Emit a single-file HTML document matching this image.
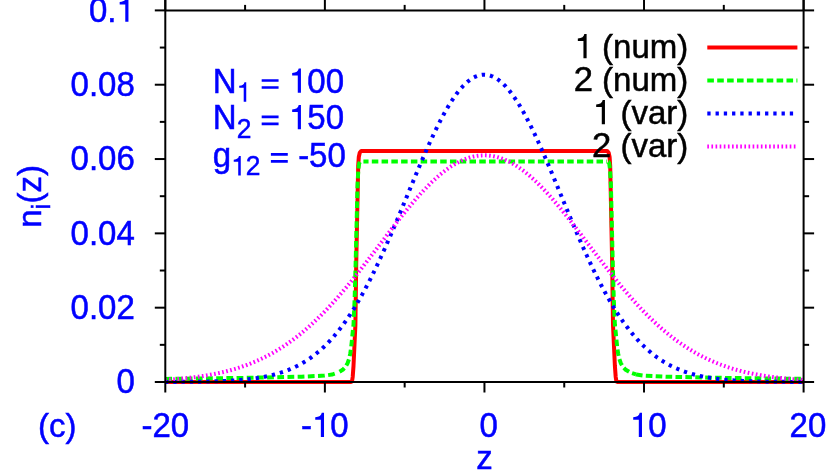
<!DOCTYPE html>
<html><head><meta charset="utf-8"><title>plot</title>
<style>
html,body{margin:0;padding:0;background:#fff;}
body{width:830px;height:475px;overflow:hidden;}
svg{display:block;will-change:transform;}
text{font-family:"Liberation Sans",sans-serif;font-size:33px;fill:#0000ff;stroke:#0000ff;stroke-width:0.5px;}
.h{fill:none !important;stroke:none !important;}
</style></head><body>
<svg width="830" height="475" viewBox="0 0 830 475">
<rect width="830" height="475" fill="#fff"/>
<defs><clipPath id="c"><rect x="165.3" y="10.4" width="638.3" height="374.6"/></clipPath></defs>
<g font-size="33">
<text transform="translate(134.80,393.30) scale(1,1.05)" text-anchor="end">0</text>
<text transform="translate(134.80,318.98) scale(1,1.05)" text-anchor="end">0.02</text>
<text transform="translate(134.80,244.66) scale(1,1.05)" text-anchor="end">0.04</text>
<text transform="translate(134.80,170.34) scale(1,1.05)" text-anchor="end">0.06</text>
<text transform="translate(134.80,96.02) scale(1,1.05)" text-anchor="end">0.08</text>
<text transform="translate(134.80,21.70) scale(1,1.05)" text-anchor="end">0.<tspan class="h">1</tspan></text>
<text transform="translate(165.30,436.90) scale(1,1.05)" text-anchor="middle">-20</text>
<text transform="translate(324.88,436.90) scale(1,1.05)" text-anchor="middle">-<tspan class="h">1</tspan>0</text>
<text transform="translate(488.75,436.90) scale(1,1.05)" text-anchor="middle">0</text>
<text transform="translate(648.33,436.90) scale(1,1.05)" text-anchor="middle"><tspan class="h">1</tspan>0</text>
<text transform="translate(807.90,436.90) scale(1,1.05)" text-anchor="middle">20</text>
<text transform="translate(38.00,436.90) scale(1,1.0)" text-anchor="start">(c)</text>
<text transform="translate(484.45,469.00) scale(1,1.0)" text-anchor="middle">z</text>
<text transform="translate(41.30,227.80) rotate(-90) scale(1,1.0)" text-anchor="start">n<tspan font-size="26.4" dy="8.5">i</tspan><tspan dy="-8.5">(z)</tspan></text>
<text transform="translate(212.80,92.80) scale(1,1.04)" text-anchor="start">N<tspan font-size="26.4" dy="8.5"><tspan class="h">1</tspan></tspan><tspan dy="-8.5"> <tspan class="h">=</tspan> <tspan class="h">1</tspan>00</tspan></text>
<text transform="translate(212.80,129.20) scale(1,1.04)" text-anchor="start">N<tspan font-size="26.4" dy="8.5">2</tspan><tspan dy="-8.5"> <tspan class="h">=</tspan> <tspan class="h">1</tspan>50</tspan></text>
<text transform="translate(212.80,166.60) scale(1,1.04)" text-anchor="start">g<tspan font-size="26.4" dy="8.5"><tspan class="h">1</tspan>2</tspan><tspan dy="-8.5"> <tspan class="h">=</tspan> -50</tspan></text>
</g>
<g id="ov"><path transform="translate(116.44,21.70) scale(33.00,-34.65)" d="M0.268,0 L0.364,0 L0.364,0.700 L0.296,0.700 C0.282,0.618 0.222,0.578 0.098,0.570 L0.098,0.498 L0.268,0.498 Z" fill="#0000ff"/>
<path transform="translate(312.01,436.90) scale(33.00,-34.65)" d="M0.268,0 L0.364,0 L0.364,0.700 L0.296,0.700 C0.282,0.618 0.222,0.578 0.098,0.570 L0.098,0.498 L0.268,0.498 Z" fill="#0000ff"/>
<path transform="translate(629.97,436.90) scale(33.00,-34.65)" d="M0.268,0 L0.364,0 L0.364,0.700 L0.296,0.700 C0.282,0.618 0.222,0.578 0.098,0.570 L0.098,0.498 L0.268,0.498 Z" fill="#0000ff"/>
<path transform="translate(236.63,101.64) scale(26.40,-27.72)" d="M0.268,0 L0.364,0 L0.364,0.700 L0.296,0.700 C0.282,0.618 0.222,0.578 0.098,0.570 L0.098,0.498 L0.268,0.498 Z" fill="#0000ff"/>
<path transform="translate(260.49,92.80) scale(33.00,-34.65)" d="M0.036,0.114 H0.548 V0.190 H0.036 Z M0.036,0.316 H0.548 V0.392 H0.036 Z" fill="#0000ff"/>
<path transform="translate(288.93,92.80) scale(33.00,-34.65)" d="M0.268,0 L0.364,0 L0.364,0.700 L0.296,0.700 C0.282,0.618 0.222,0.578 0.098,0.570 L0.098,0.498 L0.268,0.498 Z" fill="#0000ff"/>
<path transform="translate(260.49,129.20) scale(33.00,-34.65)" d="M0.036,0.114 H0.548 V0.190 H0.036 Z M0.036,0.316 H0.548 V0.392 H0.036 Z" fill="#0000ff"/>
<path transform="translate(288.93,129.20) scale(33.00,-34.65)" d="M0.268,0 L0.364,0 L0.364,0.700 L0.296,0.700 C0.282,0.618 0.222,0.578 0.098,0.570 L0.098,0.498 L0.268,0.498 Z" fill="#0000ff"/>
<path transform="translate(231.15,175.44) scale(26.40,-27.72)" d="M0.268,0 L0.364,0 L0.364,0.700 L0.296,0.700 C0.282,0.618 0.222,0.578 0.098,0.570 L0.098,0.498 L0.268,0.498 Z" fill="#0000ff"/>
<path transform="translate(269.70,166.60) scale(33.00,-34.65)" d="M0.036,0.114 H0.548 V0.190 H0.036 Z M0.036,0.316 H0.548 V0.392 H0.036 Z" fill="#0000ff"/></g>
<g fill="none" stroke-width="4" stroke-linejoin="round" clip-path="url(#c)">
<path d="M165.30,382.00 L350.80,382.00 L352.00,381.40 L352.70,377.00 L353.50,366.00 L355.40,325.00 L356.20,265.00 L358.20,166.00 L358.80,157.00 L359.80,152.50 L361.30,150.90 L607.10,150.90 L608.60,152.50 L609.60,157.00 L610.20,166.00 L612.20,265.00 L613.00,325.00 L614.90,366.00 L615.70,377.00 L616.40,381.40 L617.60,382.00 L803.10,382.00" stroke="#ff0000"/>
<path d="M165.30,378.90 L243.50,377.90 L301.70,376.70 L324.50,375.60 L332.00,374.60 L336.00,373.27" stroke="#00ff00" stroke-dasharray="6.788 3.394" stroke-dashoffset="0.00"/>
<path d="M339.50,371.71 L342.70,369.80 L345.50,366.80 L347.70,362.90 L349.20,358.50 L350.30,353.40 L351.20,347.00 L351.80,341.40 L352.80,331.30 L353.50,325.00 L354.60,300.00 L355.60,265.00 L357.50,185.00 L358.30,170.00 L359.20,163.30 L360.00,161.90 L361.50,161.60" stroke="#00ff00" stroke-dasharray="6.60 3.30" stroke-dashoffset="0.47"/>
<path d="M363.40,161.60 L606.90,161.60" stroke="#00ff00" stroke-dasharray="6.513 3.257" stroke-dashoffset="1.37"/>
<path d="M606.90,161.60 L606.90,161.60 L608.40,161.90 L609.20,163.30 L610.10,170.00 L610.90,185.00 L612.80,265.00 L613.80,300.00 L614.90,325.00 L615.60,331.30 L616.60,341.40 L617.20,347.00 L618.10,353.40 L619.20,358.50 L620.70,362.90 L622.90,366.80 L625.70,369.80 L630.40,372.60 L636.00,374.47" stroke="#00ff00" stroke-dasharray="6.60 3.30" stroke-dashoffset="8.45"/>
<path d="M636.00,374.47 L636.40,374.60 L643.90,375.60 L666.70,376.70 L724.90,377.90 L803.10,378.90" stroke="#00ff00" stroke-dasharray="6.60 3.30" stroke-dashoffset="0.00"/>
<path d="M165.05,381.94 L165.85,381.94 L166.65,381.94 L167.44,381.94 L168.24,381.93 L169.04,381.93 L169.84,381.93 L170.64,381.92 L171.43,381.92 L172.23,381.92 L173.03,381.91 L173.83,381.91 L174.62,381.91 L175.42,381.90 L176.22,381.90 L177.02,381.89 L177.82,381.89 L178.61,381.88 L179.41,381.88 L180.21,381.87 L181.01,381.87 L181.81,381.86 L182.60,381.86 L183.40,381.85 L184.20,381.85 L185.00,381.84 L185.79,381.83 L186.59,381.83 L187.39,381.82 L188.19,381.81 L188.99,381.80 L189.78,381.80 L190.58,381.79 L191.38,381.78 L192.18,381.77 L192.98,381.76 L193.77,381.75 L194.57,381.74 L195.37,381.73 L196.17,381.72 L196.97,381.71 L197.76,381.70 L198.56,381.69 L199.36,381.67 L200.16,381.66 L200.95,381.65 L201.75,381.63 L202.55,381.62 L203.35,381.60 L204.15,381.59 L204.94,381.57 L205.74,381.56 L206.54,381.54 L207.34,381.52 L208.14,381.50 L208.93,381.49 L209.73,381.47 L210.53,381.45 L211.33,381.43 L212.12,381.40 L212.92,381.38 L213.72,381.36 L214.52,381.34 L215.32,381.31 L216.11,381.29 L216.91,381.26 L217.71,381.23 L218.51,381.20 L219.31,381.18 L220.10,381.15 L220.90,381.11 L221.70,381.08 L222.50,381.05 L223.29,381.02 L224.09,380.98 L224.89,380.94 L225.69,380.91 L226.49,380.87 L227.28,380.83 L228.08,380.79 L228.88,380.74 L229.68,380.70 L230.48,380.66 L231.27,380.61 L232.07,380.56 L232.87,380.51 L233.67,380.46 L234.47,380.41 L235.26,380.35 L236.06,380.30 L236.86,380.24 L237.66,380.18 L238.45,380.12 L239.25,380.06 L240.05,379.99 L240.85,379.92 L241.65,379.85 L242.44,379.78 L243.24,379.71 L244.04,379.63 L244.84,379.56 L245.64,379.48 L246.43,379.39 L247.23,379.31 L248.03,379.22 L248.83,379.13 L249.62,379.04 L250.42,378.95 L251.22,378.85 L252.02,378.75 L252.82,378.65 L253.61,378.54 L254.41,378.43 L255.21,378.32 L256.01,378.20 L256.81,378.09 L257.60,377.96 L258.40,377.84 L259.20,377.71 L260.00,377.58 L260.80,377.44 L261.59,377.30 L262.39,377.16 L263.19,377.02 L263.99,376.87 L264.78,376.71 L265.58,376.55 L266.38,376.39 L267.18,376.22 L267.98,376.05 L268.77,375.88 L269.57,375.70 L270.37,375.51 L271.17,375.32 L271.97,375.13 L272.76,374.93 L273.56,374.73 L274.36,374.52 L275.16,374.30 L275.95,374.09 L276.75,373.86 L277.55,373.63 L278.35,373.40 L279.15,373.15 L279.94,372.91 L280.74,372.65 L281.54,372.39 L282.34,372.13 L283.14,371.86 L283.93,371.58 L284.73,371.30 L285.53,371.00 L286.33,370.71 L287.12,370.40 L287.92,370.09 L288.72,369.77 L289.52,369.45 L290.32,369.12 L291.11,368.78 L291.91,368.43 L292.71,368.07 L293.51,367.71 L294.31,367.34 L295.10,366.96 L295.90,366.57 L296.70,366.18 L297.50,365.77 L298.30,365.36 L299.09,364.94 L299.89,364.51 L300.69,364.07 L301.49,363.63 L302.28,363.17 L303.08,362.70 L303.88,362.23 L304.68,361.74 L305.48,361.25 L306.27,360.74 L307.07,360.23 L307.87,359.71 L308.67,359.17 L309.47,358.63 L310.26,358.07 L311.06,357.51 L311.86,356.93 L312.66,356.34 L313.45,355.74 L314.25,355.13 L315.05,354.51 L315.85,353.88 L316.65,353.24 L317.44,352.58 L318.24,351.92 L319.04,351.24 L319.84,350.55 L320.64,349.85 L321.43,349.13 L322.23,348.41 L323.03,347.67 L323.83,346.92 L324.63,346.15 L325.42,345.38 L326.22,344.59 L327.02,343.79 L327.82,342.97 L328.61,342.14 L329.41,341.30 L330.21,340.45 L331.01,339.58 L331.81,338.70 L332.60,337.80 L333.40,336.89 L334.20,335.97 L335.00,335.03 L335.80,334.08 L336.59,333.12 L337.39,332.14 L338.19,331.14 L338.99,330.14 L339.78,329.12 L340.58,328.08 L341.38,327.03 L342.18,325.97 L342.98,324.89 L343.77,323.80 L344.57,322.69 L345.37,321.56 L346.17,320.43 L346.97,319.28 L347.76,318.11 L348.56,316.93 L349.36,315.73 L350.16,314.52 L350.95,313.30 L351.75,312.06 L352.55,310.80 L353.35,309.53 L354.15,308.25 L354.94,306.95 L355.74,305.64 L356.54,304.31 L357.34,302.97 L358.14,301.61 L358.93,300.24 L359.73,298.85 L360.53,297.45 L361.33,296.03 L362.13,294.61 L362.92,293.16 L363.72,291.70 L364.52,290.23 L365.32,288.75 L366.11,287.25 L366.91,285.73 L367.71,284.21 L368.51,282.67 L369.31,281.11 L370.10,279.54 L370.90,277.96 L371.70,276.37 L372.50,274.76 L373.30,273.14 L374.09,271.51 L374.89,269.87 L375.69,268.21 L376.49,266.54 L377.28,264.86 L378.08,263.17 L378.88,261.47 L379.68,259.75 L380.48,258.03 L381.27,256.29 L382.07,254.54 L382.87,252.78 L383.67,251.02 L384.47,249.24 L385.26,247.45 L386.06,245.65 L386.86,243.85 L387.66,242.03 L388.46,240.21 L389.25,238.38 L390.05,236.54 L390.85,234.69 L391.65,232.83 L392.44,230.97 L393.24,229.10 L394.04,227.23 L394.84,225.34 L395.64,223.46 L396.43,221.56 L397.23,219.66 L398.03,217.76 L398.83,215.85 L399.63,213.94 L400.42,212.02 L401.22,210.11 L402.02,208.18 L402.82,206.26 L403.61,204.33 L404.41,202.40 L405.21,200.47 L406.01,198.54 L406.81,196.61 L407.60,194.68 L408.40,192.75 L409.20,190.82 L410.00,188.89 L410.80,186.96 L411.59,185.03 L412.39,183.11 L413.19,181.18 L413.99,179.27 L414.78,177.35 L415.58,175.44 L416.38,173.53 L417.18,171.63 L417.98,169.74 L418.77,167.85 L419.57,165.97 L420.37,164.09 L421.17,162.22 L421.97,160.36 L422.76,158.51 L423.56,156.66 L424.36,154.83 L425.16,153.00 L425.96,151.18 L426.75,149.38 L427.55,147.59 L428.35,145.80 L429.15,144.03 L429.94,142.28 L430.74,140.53 L431.54,138.80 L432.34,137.08 L433.14,135.38 L433.93,133.69 L434.73,132.02 L435.53,130.36 L436.33,128.72 L437.13,127.10 L437.92,125.49 L438.72,123.90 L439.52,122.33 L440.32,120.78 L441.11,119.24 L441.91,117.73 L442.71,116.23 L443.51,114.76 L444.31,113.30 L445.10,111.87 L445.90,110.46 L446.70,109.07 L447.50,107.70 L448.30,106.36 L449.09,105.04 L449.89,103.74 L450.69,102.47 L451.49,101.22 L452.29,100.00 L453.08,98.80 L453.88,97.62 L454.68,96.47 L455.48,95.35 L456.27,94.26 L457.07,93.19 L457.87,92.15 L458.67,91.13 L459.47,90.15 L460.26,89.19 L461.06,88.26 L461.86,87.36 L462.66,86.49 L463.46,85.65 L464.25,84.83 L465.05,84.05 L465.85,83.30 L466.65,82.57 L467.44,81.88 L468.24,81.22 L469.04,80.59 L469.84,79.99 L470.64,79.42 L471.43,78.88 L472.23,78.38 L473.03,77.91 L473.83,77.46 L474.63,77.05 L475.42,76.68 L476.22,76.33 L477.02,76.02 L477.82,75.74 L478.61,75.49 L479.41,75.28 L480.21,75.10 L481.01,74.95 L481.81,74.84 L482.60,74.75 L483.40,74.70 L484.20,74.69 L485.00,74.70 L485.80,74.75 L486.59,74.84 L487.39,74.95 L488.19,75.10 L488.99,75.28 L489.79,75.49 L490.58,75.74 L491.38,76.02 L492.18,76.33 L492.98,76.68 L493.77,77.05 L494.57,77.46 L495.37,77.91 L496.17,78.38 L496.97,78.88 L497.76,79.42 L498.56,79.99 L499.36,80.59 L500.16,81.22 L500.96,81.88 L501.75,82.57 L502.55,83.30 L503.35,84.05 L504.15,84.83 L504.94,85.65 L505.74,86.49 L506.54,87.36 L507.34,88.26 L508.14,89.19 L508.93,90.15 L509.73,91.13 L510.53,92.15 L511.33,93.19 L512.13,94.26 L512.92,95.35 L513.72,96.47 L514.52,97.62 L515.32,98.80 L516.12,100.00 L516.91,101.22 L517.71,102.47 L518.51,103.74 L519.31,105.04 L520.10,106.36 L520.90,107.70 L521.70,109.07 L522.50,110.46 L523.30,111.87 L524.09,113.30 L524.89,114.76 L525.69,116.23 L526.49,117.73 L527.29,119.24 L528.08,120.78 L528.88,122.33 L529.68,123.90 L530.48,125.49 L531.27,127.10 L532.07,128.72 L532.87,130.36 L533.67,132.02 L534.47,133.69 L535.26,135.38 L536.06,137.08 L536.86,138.80 L537.66,140.53 L538.46,142.28 L539.25,144.03 L540.05,145.80 L540.85,147.59 L541.65,149.38 L542.44,151.18 L543.24,153.00 L544.04,154.83 L544.84,156.66 L545.64,158.51 L546.43,160.36 L547.23,162.22 L548.03,164.09 L548.83,165.97 L549.63,167.85 L550.42,169.74 L551.22,171.63 L552.02,173.53 L552.82,175.44 L553.62,177.35 L554.41,179.27 L555.21,181.18 L556.01,183.11 L556.81,185.03 L557.60,186.96 L558.40,188.89 L559.20,190.82 L560.00,192.75 L560.80,194.68 L561.59,196.61 L562.39,198.54 L563.19,200.47 L563.99,202.40 L564.79,204.33 L565.58,206.26 L566.38,208.18 L567.18,210.11 L567.98,212.02 L568.77,213.94 L569.57,215.85 L570.37,217.76 L571.17,219.66 L571.97,221.56 L572.76,223.46 L573.56,225.34 L574.36,227.23 L575.16,229.10 L575.96,230.97 L576.75,232.83 L577.55,234.69 L578.35,236.54 L579.15,238.38 L579.95,240.21 L580.74,242.03 L581.54,243.85 L582.34,245.65 L583.14,247.45 L583.93,249.24 L584.73,251.02 L585.53,252.78 L586.33,254.54 L587.13,256.29 L587.92,258.03 L588.72,259.75 L589.52,261.47 L590.32,263.17 L591.12,264.86 L591.91,266.54 L592.71,268.21 L593.51,269.87 L594.31,271.51 L595.10,273.14 L595.90,274.76 L596.70,276.37 L597.50,277.96 L598.30,279.54 L599.09,281.11 L599.89,282.67 L600.69,284.21 L601.49,285.73 L602.29,287.25 L603.08,288.75 L603.88,290.23 L604.68,291.70 L605.48,293.16 L606.27,294.61 L607.07,296.03 L607.87,297.45 L608.67,298.85 L609.47,300.24 L610.26,301.61 L611.06,302.97 L611.86,304.31 L612.66,305.64 L613.46,306.95 L614.25,308.25 L615.05,309.53 L615.85,310.80 L616.65,312.06 L617.45,313.30 L618.24,314.52 L619.04,315.73 L619.84,316.93 L620.64,318.11 L621.43,319.28 L622.23,320.43 L623.03,321.56 L623.83,322.69 L624.63,323.80 L625.42,324.89 L626.22,325.97 L627.02,327.03 L627.82,328.08 L628.62,329.12 L629.41,330.14 L630.21,331.14 L631.01,332.14 L631.81,333.12 L632.60,334.08 L633.40,335.03 L634.20,335.97 L635.00,336.89 L635.80,337.80 L636.59,338.70 L637.39,339.58 L638.19,340.45 L638.99,341.30 L639.79,342.14 L640.58,342.97 L641.38,343.79 L642.18,344.59 L642.98,345.38 L643.78,346.15 L644.57,346.92 L645.37,347.67 L646.17,348.41 L646.97,349.13 L647.76,349.85 L648.56,350.55 L649.36,351.24 L650.16,351.92 L650.96,352.58 L651.75,353.24 L652.55,353.88 L653.35,354.51 L654.15,355.13 L654.95,355.74 L655.74,356.34 L656.54,356.93 L657.34,357.51 L658.14,358.07 L658.93,358.63 L659.73,359.17 L660.53,359.71 L661.33,360.23 L662.13,360.74 L662.92,361.25 L663.72,361.74 L664.52,362.23 L665.32,362.70 L666.12,363.17 L666.91,363.63 L667.71,364.07 L668.51,364.51 L669.31,364.94 L670.10,365.36 L670.90,365.77 L671.70,366.18 L672.50,366.57 L673.30,366.96 L674.09,367.34 L674.89,367.71 L675.69,368.07 L676.49,368.43 L677.29,368.78 L678.08,369.12 L678.88,369.45 L679.68,369.77 L680.48,370.09 L681.28,370.40 L682.07,370.71 L682.87,371.00 L683.67,371.30 L684.47,371.58 L685.26,371.86 L686.06,372.13 L686.86,372.39 L687.66,372.65 L688.46,372.91 L689.25,373.15 L690.05,373.40 L690.85,373.63 L691.65,373.86 L692.45,374.09 L693.24,374.30 L694.04,374.52 L694.84,374.73 L695.64,374.93 L696.43,375.13 L697.23,375.32 L698.03,375.51 L698.83,375.70 L699.63,375.88 L700.42,376.05 L701.22,376.22 L702.02,376.39 L702.82,376.55 L703.62,376.71 L704.41,376.87 L705.21,377.02 L706.01,377.16 L706.81,377.30 L707.61,377.44 L708.40,377.58 L709.20,377.71 L710.00,377.84 L710.80,377.96 L711.59,378.09 L712.39,378.20 L713.19,378.32 L713.99,378.43 L714.79,378.54 L715.58,378.65 L716.38,378.75 L717.18,378.85 L717.98,378.95 L718.78,379.04 L719.57,379.13 L720.37,379.22 L721.17,379.31 L721.97,379.39 L722.76,379.48 L723.56,379.56 L724.36,379.63 L725.16,379.71 L725.96,379.78 L726.75,379.85 L727.55,379.92 L728.35,379.99 L729.15,380.06 L729.95,380.12 L730.74,380.18 L731.54,380.24 L732.34,380.30 L733.14,380.35 L733.93,380.41 L734.73,380.46 L735.53,380.51 L736.33,380.56 L737.13,380.61 L737.92,380.66 L738.72,380.70 L739.52,380.74 L740.32,380.79 L741.12,380.83 L741.91,380.87 L742.71,380.91 L743.51,380.94 L744.31,380.98 L745.11,381.02 L745.90,381.05 L746.70,381.08 L747.50,381.11 L748.30,381.15 L749.09,381.18 L749.89,381.20 L750.69,381.23 L751.49,381.26 L752.29,381.29 L753.08,381.31 L753.88,381.34 L754.68,381.36 L755.48,381.38 L756.28,381.40 L757.07,381.43 L757.87,381.45 L758.67,381.47 L759.47,381.49 L760.26,381.50 L761.06,381.52 L761.86,381.54 L762.66,381.56 L763.46,381.57 L764.25,381.59 L765.05,381.60 L765.85,381.62 L766.65,381.63 L767.45,381.65 L768.24,381.66 L769.04,381.67 L769.84,381.69 L770.64,381.70 L771.44,381.71 L772.23,381.72 L773.03,381.73 L773.83,381.74 L774.63,381.75 L775.42,381.76 L776.22,381.77 L777.02,381.78 L777.82,381.79 L778.62,381.80 L779.41,381.80 L780.21,381.81 L781.01,381.82 L781.81,381.83 L782.61,381.83 L783.40,381.84 L784.20,381.85 L785.00,381.85 L785.80,381.86 L786.59,381.86 L787.39,381.87 L788.19,381.87 L788.99,381.88 L789.79,381.88 L790.58,381.89 L791.38,381.89 L792.18,381.90 L792.98,381.90 L793.78,381.91 L794.57,381.91 L795.37,381.91 L796.17,381.92 L796.97,381.92 L797.76,381.92 L798.56,381.93 L799.36,381.93 L800.16,381.93 L800.96,381.94 L801.75,381.94 L802.55,381.94 L803.35,381.94" stroke="#0000ff" stroke-dasharray="3.30 4.95"/>
<path d="M165.05,379.89 L165.85,379.84 L166.65,379.79 L167.44,379.74 L168.24,379.68 L169.04,379.63 L169.84,379.57 L170.64,379.52 L171.43,379.46 L172.23,379.40 L173.03,379.34 L173.83,379.28 L174.62,379.22 L175.42,379.15 L176.22,379.09 L177.02,379.02 L177.82,378.95 L178.61,378.88 L179.41,378.81 L180.21,378.74 L181.01,378.67 L181.81,378.59 L182.60,378.52 L183.40,378.44 L184.20,378.36 L185.00,378.28 L185.79,378.20 L186.59,378.11 L187.39,378.03 L188.19,377.94 L188.99,377.85 L189.78,377.76 L190.58,377.67 L191.38,377.57 L192.18,377.48 L192.98,377.38 L193.77,377.28 L194.57,377.18 L195.37,377.08 L196.17,376.97 L196.97,376.87 L197.76,376.76 L198.56,376.65 L199.36,376.53 L200.16,376.42 L200.95,376.30 L201.75,376.18 L202.55,376.06 L203.35,375.94 L204.15,375.81 L204.94,375.68 L205.74,375.55 L206.54,375.42 L207.34,375.28 L208.14,375.15 L208.93,375.01 L209.73,374.86 L210.53,374.72 L211.33,374.57 L212.12,374.42 L212.92,374.27 L213.72,374.11 L214.52,373.96 L215.32,373.80 L216.11,373.63 L216.91,373.47 L217.71,373.30 L218.51,373.13 L219.31,372.95 L220.10,372.78 L220.90,372.60 L221.70,372.41 L222.50,372.23 L223.29,372.04 L224.09,371.85 L224.89,371.65 L225.69,371.46 L226.49,371.25 L227.28,371.05 L228.08,370.84 L228.88,370.63 L229.68,370.42 L230.48,370.20 L231.27,369.98 L232.07,369.75 L232.87,369.53 L233.67,369.29 L234.47,369.06 L235.26,368.82 L236.06,368.58 L236.86,368.33 L237.66,368.08 L238.45,367.83 L239.25,367.57 L240.05,367.31 L240.85,367.05 L241.65,366.78 L242.44,366.51 L243.24,366.23 L244.04,365.95 L244.84,365.67 L245.64,365.38 L246.43,365.08 L247.23,364.79 L248.03,364.49 L248.83,364.18 L249.62,363.87 L250.42,363.56 L251.22,363.24 L252.02,362.92 L252.82,362.59 L253.61,362.26 L254.41,361.92 L255.21,361.58 L256.01,361.24 L256.81,360.89 L257.60,360.54 L258.40,360.18 L259.20,359.81 L260.00,359.45 L260.80,359.07 L261.59,358.70 L262.39,358.31 L263.19,357.93 L263.99,357.53 L264.78,357.14 L265.58,356.73 L266.38,356.33 L267.18,355.91 L267.98,355.50 L268.77,355.08 L269.57,354.65 L270.37,354.22 L271.17,353.78 L271.97,353.33 L272.76,352.89 L273.56,352.43 L274.36,351.97 L275.16,351.51 L275.95,351.04 L276.75,350.56 L277.55,350.08 L278.35,349.60 L279.15,349.11 L279.94,348.61 L280.74,348.11 L281.54,347.60 L282.34,347.09 L283.14,346.57 L283.93,346.04 L284.73,345.51 L285.53,344.98 L286.33,344.43 L287.12,343.89 L287.92,343.33 L288.72,342.78 L289.52,342.21 L290.32,341.64 L291.11,341.06 L291.91,340.48 L292.71,339.89 L293.51,339.30 L294.31,338.70 L295.10,338.10 L295.90,337.49 L296.70,336.87 L297.50,336.25 L298.30,335.62 L299.09,334.98 L299.89,334.34 L300.69,333.69 L301.49,333.04 L302.28,332.38 L303.08,331.72 L303.88,331.05 L304.68,330.37 L305.48,329.69 L306.27,329.00 L307.07,328.31 L307.87,327.61 L308.67,326.91 L309.47,326.19 L310.26,325.48 L311.06,324.75 L311.86,324.02 L312.66,323.29 L313.45,322.55 L314.25,321.80 L315.05,321.05 L315.85,320.29 L316.65,319.53 L317.44,318.76 L318.24,317.98 L319.04,317.20 L319.84,316.42 L320.64,315.62 L321.43,314.82 L322.23,314.02 L323.03,313.21 L323.83,312.40 L324.63,311.58 L325.42,310.75 L326.22,309.92 L327.02,309.08 L327.82,308.24 L328.61,307.39 L329.41,306.54 L330.21,305.68 L331.01,304.82 L331.81,303.95 L332.60,303.07 L333.40,302.19 L334.20,301.31 L335.00,300.42 L335.80,299.53 L336.59,298.63 L337.39,297.72 L338.19,296.82 L338.99,295.90 L339.78,294.98 L340.58,294.06 L341.38,293.13 L342.18,292.20 L342.98,291.27 L343.77,290.32 L344.57,289.38 L345.37,288.43 L346.17,287.48 L346.97,286.52 L347.76,285.56 L348.56,284.59 L349.36,283.62 L350.16,282.65 L350.95,281.67 L351.75,280.69 L352.55,279.70 L353.35,278.71 L354.15,277.72 L354.94,276.73 L355.74,275.73 L356.54,274.73 L357.34,273.72 L358.14,272.72 L358.93,271.70 L359.73,270.69 L360.53,269.67 L361.33,268.66 L362.13,267.63 L362.92,266.61 L363.72,265.58 L364.52,264.56 L365.32,263.52 L366.11,262.49 L366.91,261.46 L367.71,260.42 L368.51,259.38 L369.31,258.34 L370.10,257.30 L370.90,256.26 L371.70,255.21 L372.50,254.17 L373.30,253.12 L374.09,252.07 L374.89,251.03 L375.69,249.98 L376.49,248.93 L377.28,247.88 L378.08,246.83 L378.88,245.77 L379.68,244.72 L380.48,243.67 L381.27,242.62 L382.07,241.57 L382.87,240.52 L383.67,239.47 L384.47,238.42 L385.26,237.37 L386.06,236.32 L386.86,235.28 L387.66,234.23 L388.46,233.19 L389.25,232.14 L390.05,231.10 L390.85,230.06 L391.65,229.02 L392.44,227.99 L393.24,226.95 L394.04,225.92 L394.84,224.89 L395.64,223.87 L396.43,222.84 L397.23,221.82 L398.03,220.80 L398.83,219.78 L399.63,218.77 L400.42,217.76 L401.22,216.76 L402.02,215.75 L402.82,214.75 L403.61,213.76 L404.41,212.77 L405.21,211.78 L406.01,210.80 L406.81,209.82 L407.60,208.84 L408.40,207.88 L409.20,206.91 L410.00,205.95 L410.80,205.00 L411.59,204.05 L412.39,203.10 L413.19,202.17 L413.99,201.23 L414.78,200.31 L415.58,199.39 L416.38,198.47 L417.18,197.56 L417.98,196.66 L418.77,195.76 L419.57,194.87 L420.37,193.99 L421.17,193.12 L421.97,192.25 L422.76,191.39 L423.56,190.53 L424.36,189.69 L425.16,188.85 L425.96,188.01 L426.75,187.19 L427.55,186.37 L428.35,185.57 L429.15,184.77 L429.94,183.98 L430.74,183.19 L431.54,182.42 L432.34,181.65 L433.14,180.90 L433.93,180.15 L434.73,179.41 L435.53,178.68 L436.33,177.96 L437.13,177.25 L437.92,176.55 L438.72,175.86 L439.52,175.17 L440.32,174.50 L441.11,173.84 L441.91,173.19 L442.71,172.55 L443.51,171.92 L444.31,171.29 L445.10,170.68 L445.90,170.08 L446.70,169.50 L447.50,168.92 L448.30,168.35 L449.09,167.79 L449.89,167.25 L450.69,166.71 L451.49,166.19 L452.29,165.68 L453.08,165.18 L453.88,164.69 L454.68,164.21 L455.48,163.75 L456.27,163.30 L457.07,162.85 L457.87,162.42 L458.67,162.01 L459.47,161.60 L460.26,161.21 L461.06,160.83 L461.86,160.46 L462.66,160.10 L463.46,159.76 L464.25,159.43 L465.05,159.11 L465.85,158.80 L466.65,158.51 L467.44,158.23 L468.24,157.96 L469.04,157.70 L469.84,157.46 L470.64,157.23 L471.43,157.01 L472.23,156.81 L473.03,156.62 L473.83,156.44 L474.63,156.28 L475.42,156.12 L476.22,155.99 L477.02,155.86 L477.82,155.75 L478.61,155.65 L479.41,155.56 L480.21,155.49 L481.01,155.43 L481.81,155.38 L482.60,155.35 L483.40,155.33 L484.20,155.32 L485.00,155.33 L485.80,155.35 L486.59,155.38 L487.39,155.43 L488.19,155.49 L488.99,155.56 L489.79,155.65 L490.58,155.75 L491.38,155.86 L492.18,155.99 L492.98,156.12 L493.77,156.28 L494.57,156.44 L495.37,156.62 L496.17,156.81 L496.97,157.01 L497.76,157.23 L498.56,157.46 L499.36,157.70 L500.16,157.96 L500.96,158.23 L501.75,158.51 L502.55,158.80 L503.35,159.11 L504.15,159.43 L504.94,159.76 L505.74,160.10 L506.54,160.46 L507.34,160.83 L508.14,161.21 L508.93,161.60 L509.73,162.01 L510.53,162.42 L511.33,162.85 L512.13,163.30 L512.92,163.75 L513.72,164.21 L514.52,164.69 L515.32,165.18 L516.12,165.68 L516.91,166.19 L517.71,166.71 L518.51,167.25 L519.31,167.79 L520.10,168.35 L520.90,168.92 L521.70,169.50 L522.50,170.08 L523.30,170.68 L524.09,171.29 L524.89,171.92 L525.69,172.55 L526.49,173.19 L527.29,173.84 L528.08,174.50 L528.88,175.17 L529.68,175.86 L530.48,176.55 L531.27,177.25 L532.07,177.96 L532.87,178.68 L533.67,179.41 L534.47,180.15 L535.26,180.90 L536.06,181.65 L536.86,182.42 L537.66,183.19 L538.46,183.98 L539.25,184.77 L540.05,185.57 L540.85,186.37 L541.65,187.19 L542.44,188.01 L543.24,188.85 L544.04,189.69 L544.84,190.53 L545.64,191.39 L546.43,192.25 L547.23,193.12 L548.03,193.99 L548.83,194.87 L549.63,195.76 L550.42,196.66 L551.22,197.56 L552.02,198.47 L552.82,199.39 L553.62,200.31 L554.41,201.23 L555.21,202.17 L556.01,203.10 L556.81,204.05 L557.60,205.00 L558.40,205.95 L559.20,206.91 L560.00,207.88 L560.80,208.84 L561.59,209.82 L562.39,210.80 L563.19,211.78 L563.99,212.77 L564.79,213.76 L565.58,214.75 L566.38,215.75 L567.18,216.76 L567.98,217.76 L568.77,218.77 L569.57,219.78 L570.37,220.80 L571.17,221.82 L571.97,222.84 L572.76,223.87 L573.56,224.89 L574.36,225.92 L575.16,226.95 L575.96,227.99 L576.75,229.02 L577.55,230.06 L578.35,231.10 L579.15,232.14 L579.95,233.19 L580.74,234.23 L581.54,235.28 L582.34,236.32 L583.14,237.37 L583.93,238.42 L584.73,239.47 L585.53,240.52 L586.33,241.57 L587.13,242.62 L587.92,243.67 L588.72,244.72 L589.52,245.77 L590.32,246.83 L591.12,247.88 L591.91,248.93 L592.71,249.98 L593.51,251.03 L594.31,252.07 L595.10,253.12 L595.90,254.17 L596.70,255.21 L597.50,256.26 L598.30,257.30 L599.09,258.34 L599.89,259.38 L600.69,260.42 L601.49,261.46 L602.29,262.49 L603.08,263.52 L603.88,264.56 L604.68,265.58 L605.48,266.61 L606.27,267.63 L607.07,268.66 L607.87,269.67 L608.67,270.69 L609.47,271.70 L610.26,272.72 L611.06,273.72 L611.86,274.73 L612.66,275.73 L613.46,276.73 L614.25,277.72 L615.05,278.71 L615.85,279.70 L616.65,280.69 L617.45,281.67 L618.24,282.65 L619.04,283.62 L619.84,284.59 L620.64,285.56 L621.43,286.52 L622.23,287.48 L623.03,288.43 L623.83,289.38 L624.63,290.32 L625.42,291.27 L626.22,292.20 L627.02,293.13 L627.82,294.06 L628.62,294.98 L629.41,295.90 L630.21,296.82 L631.01,297.72 L631.81,298.63 L632.60,299.53 L633.40,300.42 L634.20,301.31 L635.00,302.19 L635.80,303.07 L636.59,303.95 L637.39,304.82 L638.19,305.68 L638.99,306.54 L639.79,307.39 L640.58,308.24 L641.38,309.08 L642.18,309.92 L642.98,310.75 L643.78,311.58 L644.57,312.40 L645.37,313.21 L646.17,314.02 L646.97,314.82 L647.76,315.62 L648.56,316.42 L649.36,317.20 L650.16,317.98 L650.96,318.76 L651.75,319.53 L652.55,320.29 L653.35,321.05 L654.15,321.80 L654.95,322.55 L655.74,323.29 L656.54,324.02 L657.34,324.75 L658.14,325.48 L658.93,326.19 L659.73,326.91 L660.53,327.61 L661.33,328.31 L662.13,329.00 L662.92,329.69 L663.72,330.37 L664.52,331.05 L665.32,331.72 L666.12,332.38 L666.91,333.04 L667.71,333.69 L668.51,334.34 L669.31,334.98 L670.10,335.62 L670.90,336.25 L671.70,336.87 L672.50,337.49 L673.30,338.10 L674.09,338.70 L674.89,339.30 L675.69,339.89 L676.49,340.48 L677.29,341.06 L678.08,341.64 L678.88,342.21 L679.68,342.78 L680.48,343.33 L681.28,343.89 L682.07,344.43 L682.87,344.98 L683.67,345.51 L684.47,346.04 L685.26,346.57 L686.06,347.09 L686.86,347.60 L687.66,348.11 L688.46,348.61 L689.25,349.11 L690.05,349.60 L690.85,350.08 L691.65,350.56 L692.45,351.04 L693.24,351.51 L694.04,351.97 L694.84,352.43 L695.64,352.89 L696.43,353.33 L697.23,353.78 L698.03,354.22 L698.83,354.65 L699.63,355.08 L700.42,355.50 L701.22,355.91 L702.02,356.33 L702.82,356.73 L703.62,357.14 L704.41,357.53 L705.21,357.93 L706.01,358.31 L706.81,358.70 L707.61,359.07 L708.40,359.45 L709.20,359.81 L710.00,360.18 L710.80,360.54 L711.59,360.89 L712.39,361.24 L713.19,361.58 L713.99,361.92 L714.79,362.26 L715.58,362.59 L716.38,362.92 L717.18,363.24 L717.98,363.56 L718.78,363.87 L719.57,364.18 L720.37,364.49 L721.17,364.79 L721.97,365.08 L722.76,365.38 L723.56,365.67 L724.36,365.95 L725.16,366.23 L725.96,366.51 L726.75,366.78 L727.55,367.05 L728.35,367.31 L729.15,367.57 L729.95,367.83 L730.74,368.08 L731.54,368.33 L732.34,368.58 L733.14,368.82 L733.93,369.06 L734.73,369.29 L735.53,369.53 L736.33,369.75 L737.13,369.98 L737.92,370.20 L738.72,370.42 L739.52,370.63 L740.32,370.84 L741.12,371.05 L741.91,371.25 L742.71,371.46 L743.51,371.65 L744.31,371.85 L745.11,372.04 L745.90,372.23 L746.70,372.41 L747.50,372.60 L748.30,372.78 L749.09,372.95 L749.89,373.13 L750.69,373.30 L751.49,373.47 L752.29,373.63 L753.08,373.80 L753.88,373.96 L754.68,374.11 L755.48,374.27 L756.28,374.42 L757.07,374.57 L757.87,374.72 L758.67,374.86 L759.47,375.01 L760.26,375.15 L761.06,375.28 L761.86,375.42 L762.66,375.55 L763.46,375.68 L764.25,375.81 L765.05,375.94 L765.85,376.06 L766.65,376.18 L767.45,376.30 L768.24,376.42 L769.04,376.53 L769.84,376.65 L770.64,376.76 L771.44,376.87 L772.23,376.97 L773.03,377.08 L773.83,377.18 L774.63,377.28 L775.42,377.38 L776.22,377.48 L777.02,377.57 L777.82,377.67 L778.62,377.76 L779.41,377.85 L780.21,377.94 L781.01,378.03 L781.81,378.11 L782.61,378.20 L783.40,378.28 L784.20,378.36 L785.00,378.44 L785.80,378.52 L786.59,378.59 L787.39,378.67 L788.19,378.74 L788.99,378.81 L789.79,378.88 L790.58,378.95 L791.38,379.02 L792.18,379.09 L792.98,379.15 L793.78,379.22 L794.57,379.28 L795.37,379.34 L796.17,379.40 L796.97,379.46 L797.76,379.52 L798.56,379.57 L799.36,379.63 L800.16,379.68 L800.96,379.74 L801.75,379.79 L802.55,379.84 L803.35,379.89" stroke="#ff00ff" stroke-dasharray="1.65 2.47"/>
</g>
<g>
<text transform="translate(688.30,58.25) scale(1,1.0)" text-anchor="end" style="fill:#000;stroke:#000"><tspan class="h">1</tspan> (num)</text>
<line x1="707.3" y1="47.45" x2="797.4" y2="47.45" stroke="#ff0000" stroke-width="4"/>
<text transform="translate(688.30,91.25) scale(1,1.0)" text-anchor="end" style="fill:#000;stroke:#000"><tspan font-size="34.6">2</tspan> (num)</text>
<line x1="707.3" y1="80.45" x2="797.4" y2="80.45" stroke="#00ff00" stroke-width="4" stroke-dasharray="6.60 3.30"/>
<text transform="translate(688.30,124.25) scale(1,1.0)" text-anchor="end" style="fill:#000;stroke:#000"><tspan class="h">1</tspan> (var)</text>
<line x1="707.3" y1="113.45" x2="797.4" y2="113.45" stroke="#0000ff" stroke-width="4" stroke-dasharray="3.30 4.95"/>
<text transform="translate(688.30,157.25) scale(1,1.0)" text-anchor="end" style="fill:#000;stroke:#000"><tspan font-size="34.6">2</tspan> (var)</text>
<line x1="707.3" y1="146.45" x2="797.4" y2="146.45" stroke="#ff00ff" stroke-width="4" stroke-dasharray="1.65 2.47"/>
</g>
<g id="ov2"><path transform="translate(574.60,58.25) scale(33.00,-34.65)" d="M0.268,0 L0.364,0 L0.364,0.700 L0.296,0.700 C0.282,0.618 0.222,0.578 0.098,0.570 L0.098,0.498 L0.268,0.498 Z" fill="#000"/>
<path transform="translate(592.94,124.25) scale(33.00,-34.65)" d="M0.268,0 L0.364,0 L0.364,0.700 L0.296,0.700 C0.282,0.618 0.222,0.578 0.098,0.570 L0.098,0.498 L0.268,0.498 Z" fill="#000"/></g>
<g stroke="#000" stroke-width="2" fill="none">
<line x1="165.3" y1="0" x2="165.3" y2="382.0"/>
<line x1="803.6" y1="0" x2="803.6" y2="382.0"/>
<line x1="165.3" y1="10.4" x2="803.6" y2="10.4"/>
<line x1="165.3" y1="382.0" x2="803.6" y2="382.0"/>
<line x1="165.30" y1="382.0" x2="165.30" y2="392.5"/>
<line x1="165.30" y1="10.4" x2="165.30" y2="-0.09999999999999964"/>
<line x1="245.09" y1="382.0" x2="245.09" y2="387.5"/>
<line x1="245.09" y1="10.4" x2="245.09" y2="4.9"/>
<line x1="324.88" y1="382.0" x2="324.88" y2="392.5"/>
<line x1="324.88" y1="10.4" x2="324.88" y2="-0.09999999999999964"/>
<line x1="404.66" y1="382.0" x2="404.66" y2="387.5"/>
<line x1="404.66" y1="10.4" x2="404.66" y2="4.9"/>
<line x1="484.45" y1="382.0" x2="484.45" y2="392.5"/>
<line x1="484.45" y1="10.4" x2="484.45" y2="-0.09999999999999964"/>
<line x1="564.24" y1="382.0" x2="564.24" y2="387.5"/>
<line x1="564.24" y1="10.4" x2="564.24" y2="4.9"/>
<line x1="644.03" y1="382.0" x2="644.03" y2="392.5"/>
<line x1="644.03" y1="10.4" x2="644.03" y2="-0.09999999999999964"/>
<line x1="723.81" y1="382.0" x2="723.81" y2="387.5"/>
<line x1="723.81" y1="10.4" x2="723.81" y2="4.9"/>
<line x1="803.60" y1="382.0" x2="803.60" y2="392.5"/>
<line x1="803.60" y1="10.4" x2="803.60" y2="-0.09999999999999964"/>
<line x1="165.3" y1="382.00" x2="154.8" y2="382.00"/>
<line x1="803.6" y1="382.00" x2="814.1" y2="382.00"/>
<line x1="165.3" y1="344.84" x2="159.8" y2="344.84"/>
<line x1="803.6" y1="344.84" x2="809.1" y2="344.84"/>
<line x1="165.3" y1="307.68" x2="154.8" y2="307.68"/>
<line x1="803.6" y1="307.68" x2="814.1" y2="307.68"/>
<line x1="165.3" y1="270.52" x2="159.8" y2="270.52"/>
<line x1="803.6" y1="270.52" x2="809.1" y2="270.52"/>
<line x1="165.3" y1="233.36" x2="154.8" y2="233.36"/>
<line x1="803.6" y1="233.36" x2="814.1" y2="233.36"/>
<line x1="165.3" y1="196.20" x2="159.8" y2="196.20"/>
<line x1="803.6" y1="196.20" x2="809.1" y2="196.20"/>
<line x1="165.3" y1="159.04" x2="154.8" y2="159.04"/>
<line x1="803.6" y1="159.04" x2="814.1" y2="159.04"/>
<line x1="165.3" y1="121.88" x2="159.8" y2="121.88"/>
<line x1="803.6" y1="121.88" x2="809.1" y2="121.88"/>
<line x1="165.3" y1="84.72" x2="154.8" y2="84.72"/>
<line x1="803.6" y1="84.72" x2="814.1" y2="84.72"/>
<line x1="165.3" y1="47.56" x2="159.8" y2="47.56"/>
<line x1="803.6" y1="47.56" x2="809.1" y2="47.56"/>
<line x1="165.3" y1="10.40" x2="154.8" y2="10.40"/>
<line x1="803.6" y1="10.40" x2="814.1" y2="10.40"/>
</g>
</svg>
</body></html>
